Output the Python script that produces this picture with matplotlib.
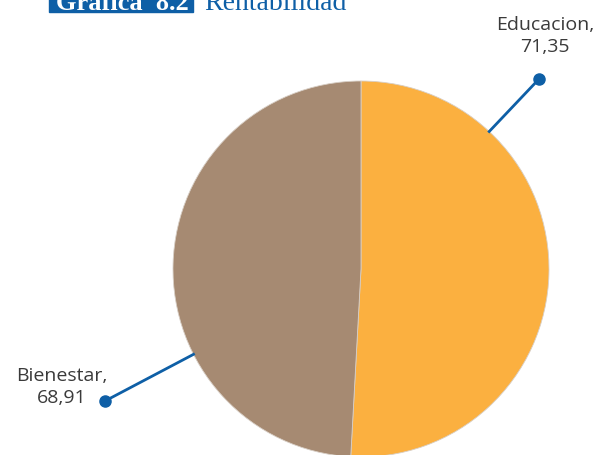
import numpy as np
import matplotlib.pyplot as plt
import matplotlib.patches as mpatches

# datos de la grafica
categorias = ["Educacion", "Bienestar"]
valores = [71.35, 68.91]
colores = ["#FBB040", "#A68A72"]
etiquetas = ["71,35", "68,91"]

W, H = 599, 456
fig = plt.figure(figsize=(W / 100, H / 100), dpi=100)
ax = fig.add_axes([0, 0, 1, 1])

centro = (361, 186)
radio = 188
ax.pie(valores, colors=colores, startangle=90, counterclock=False,
       center=centro, radius=radio, wedgeprops=dict(linewidth=0.6, edgecolor="#d8cfc6"))
ax.set_xlim(0, W)
ax.set_ylim(0, H)
ax.set_aspect("equal")
ax.axis("off")

# lineas guia (angulo en el borde, punto exterior, centro del texto)
guias = [
    (47, (539, 376), (545, 420)),
    (207, (105, 54), (62, 69)),
]
azul = "#0E5FA6"
for (ang, punto, texto_pos), cat, lab in zip(guias, categorias, etiquetas):
    a = np.deg2rad(ang)
    x0 = centro[0] + radio * np.cos(a)
    y0 = centro[1] + radio * np.sin(a)
    ax.plot([x0, punto[0]], [y0, punto[1]], color=azul, lw=2, zorder=5)
    ax.plot(punto[0], punto[1], "o", color=azul, ms=8, zorder=6)
    ax.text(texto_pos[0], texto_pos[1], f"{cat},\n{lab}", ha="center", va="center",
            multialignment="center", fontsize=14, family="Open Sans",
            color="#3a3a3a", linespacing=1.35)

# titulo recortado arriba, como en el original
ax.add_patch(mpatches.Rectangle((49, H - 13), 144, 30, color="#0E5FA6", clip_on=False, zorder=7))
ax.text(122, H - 10, "Grafica  8.2", ha="center", va="baseline", fontsize=19,
        family="Liberation Serif", weight="bold", color="white", zorder=8)
ax.text(204, H - 10, "Rentabilidad", ha="left", va="baseline", fontsize=20,
        family="Liberation Serif", color="#0E5FA6", zorder=8)

fig.savefig("out.png", dpi=100)
